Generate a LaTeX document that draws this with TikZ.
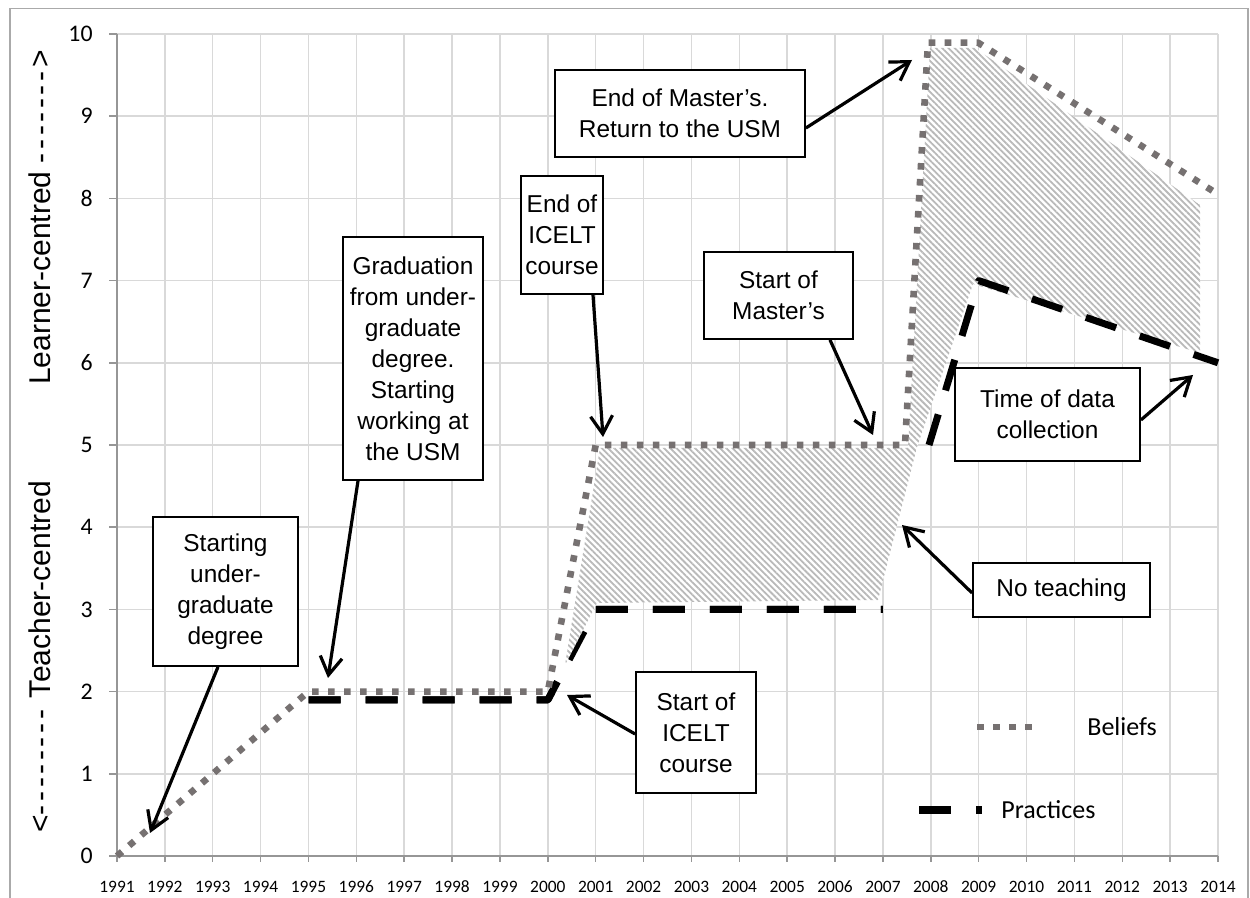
\documentclass[tikz,border=0pt]{standalone}
\usepackage{fontspec}
\setmainfont{Liberation Sans}
\newfontfamily\calfont{Carlito}
\usetikzlibrary{arrows.meta,patterns.meta}
\definecolor{gridgray}{RGB}{217,217,217}
\definecolor{axisgray}{RGB}{150,150,150}
\definecolor{framegray}{RGB}{170,170,170}
\definecolor{beliefgray}{RGB}{118,113,113}
\definecolor{hatchgray}{RGB}{185,185,185}
\newcommand\boxfont{\fontsize{12.2}{15.5}\selectfont}
\newcommand\ytickfont{\calfont\fontsize{11.9}{14}\selectfont}
\newcommand\xtickfont{\calfont\fontsize{8.7}{10}\selectfont}
\newcommand\legfont{\calfont\fontsize{13}{15}\selectfont}
\newcommand\titlefont{\fontsize{15}{18}\selectfont}
\newcommand\hh{-\kern1.8pt}
\begin{document}
\begin{tikzpicture}[x=0.5pt,y=-0.5pt,
  gridline/.style={draw=gridgray,line width=0.75pt},
  axisline/.style={draw=axisgray,line width=0.75pt},
  beliefs/.style={draw=beliefgray,line width=3.3pt,dash pattern=on 3.3pt off 4.7pt,line join=round},
  practices/.style={draw=black,line width=3.5pt,dash pattern=on 16pt off 12.5pt,line join=round},
  lbl/.style={draw=black,line width=0.9pt,fill=white,align=center,font=\boxfont,inner sep=0pt},
  arr/.style={line width=1.6pt,-{Straight Barb[length=9pt,width=11pt,line width=1.6pt]}},
  hatch/.style={pattern={Lines[angle=-45,distance=2.2pt,line width=0.9pt]},pattern color=hatchgray}]
\useasboundingbox (0,0) rectangle (1250,898);
\fill[white] (0,0) rectangle (1250,898);
% frame
\draw[framegray,line width=0.8pt] (10,898) -- (10,8.5) -- (1248,8.5) -- (1248,898);
% grid
\foreach \i in {0,...,23} \draw[gridline] ({117+\i*47.87},34) -- ({117+\i*47.87},856);
\foreach \j in {0,...,10} \draw[gridline] (117,{856-\j*82.2}) -- (1218,{856-\j*82.2});
% axes
\draw[axisline] (117,34) -- (117,856) -- (1218,856);
\foreach \j in {0,...,10} {
  \draw[axisline] (109,{856-\j*82.2}) -- (117,{856-\j*82.2});
  \node[anchor=east,inner sep=0pt,font=\ytickfont] (yl\j) at (93,{856-\j*82.2}) {\j};
}
\foreach \i in {0,...,23} {
  \pgfmathtruncatemacro\yr{1991+\i}
  \draw[axisline] ({117+\i*47.87},856) -- ({117+\i*47.87},862);
  \node[inner sep=0pt,font=\xtickfont] (xl\i) at ({117+\i*47.87},887) {\yr};
}
% axis titles
\node[rotate=90,anchor=west,inner sep=0pt,font=\titlefont] (tc) at (40,833) {<\hh\hh\hh\hh\hh\hh\hh\hh\ Teacher-centred};
\node[rotate=90,anchor=east,inner sep=0pt,font=\titlefont] (lc) at (40,50) {Learner-centred \hh\hh\hh\hh\hh\hh\hh>};
% practices under hatch
\draw[practices] (308.5,700) -- (547.8,700) -- (595.7,609.4) -- (882.9,609.4);
% hatched band
\def\band{(565,665) -- (600,448) -- (908,448) -- (930,48) -- (975,48) -- (1200,205) -- (1200,353) -- (973,284) -- (917,447) -- (878,600) -- (597,603) -- cycle}
\fill[white] \band;
\fill[hatch] \band;
% practices over hatch
\begin{scope}
\clip (0,0) rectangle (555,898) (592,0) rectangle (1250,898);
\draw[practices] (308.5,700) -- (547.8,700) -- (595.7,609.4) -- (882.9,609.4);
\end{scope}
\draw[practices] (929,445) -- (978.7,280.6) -- (1218,362.8);
% beliefs
\draw[beliefs] (117,856) -- (308.5,691.6) -- (547.8,691.6) -- (595.7,445) -- (905,445) -- (928,42.6) -- (978,42.6) -- (1216,193);
% legend
\draw[beliefs] (977,727) -- (1033,727);
\node[anchor=west,inner sep=0pt,font=\legfont] (lb) at (1087,727) {Beliefs};
\draw[practices,line width=4pt] (919,810) -- (982,810);
\node[anchor=west,inner sep=0pt,font=\legfont] (lp) at (1001,810) {Practices};
% annotation boxes
\node[lbl,minimum width=72.5pt,minimum height=74.5pt] (b1) at (225.5,591.5) {Starting\\under-\\graduate\\degree};
\node[lbl,minimum width=70pt,minimum height=121.5pt] (b2) at (413,358.5) {Graduation\\from under-\\graduate\\degree.\\Starting\\working at\\the USM};
\node[lbl,minimum width=41pt,minimum height=59pt] (b3) at (562,235) {End of\\ICELT\\course};
\node[lbl,minimum width=74.5pt,minimum height=43.5pt] (b4) at (778.5,295.5) {Start of\\Master’s};
\node[lbl,minimum width=125pt,minimum height=43.5pt] (b5) at (680,113.5) {End of Master’s.\\Return to the USM};
\node[lbl,minimum width=92.5pt,minimum height=46.5pt] (b6) at (1047.5,414.5) {Time of data\\collection};
\node[lbl,minimum width=88.5pt,minimum height=27pt] (b7) at (1061.5,590) {No teaching};
\node[lbl,minimum width=60pt,minimum height=60.5pt] (b8) at (696,732.5) {Start of\\ICELT\\course};
% arrow tips
\coordinate (t1) at (150,833);
\coordinate (t2) at (328,678);
\coordinate (t3) at (603,437);
\coordinate (t4) at (873,435);
\coordinate (t5) at (912,60);
\coordinate (t6) at (1193,375);
\coordinate (t7) at (902,525);
\coordinate (t8) at (567,695);
\draw[arr] ([xshift=-3.75pt]b1.south) -- (t1);
\draw[arr] ([xshift=-27.5pt]b2.south) -- (t2);
\draw[arr] ([xshift=15.5pt]b3.south) -- (t3);
\draw[arr] ([xshift=25.75pt]b4.south) -- (t4);
\draw[arr] ([yshift=-7.25pt]b5.east) -- (t5);
\draw[arr] ([yshift=-2.75pt]b6.east) -- (t6);
\draw[arr] ([yshift=-1.5pt]b7.west) -- (t7);
\draw[arr] ([yshift=-0.75pt]b8.west) -- (t8);
\end{tikzpicture}
\end{document}
